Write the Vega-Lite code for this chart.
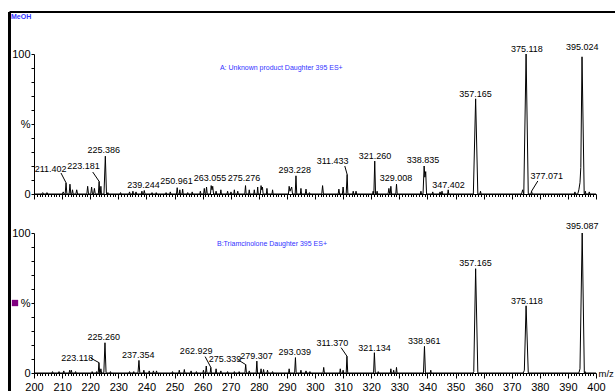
{
  "$schema": "https://vega.github.io/schema/vega-lite/v6.json",
  "padding": {"left": 7, "top": 10, "right": 0, "bottom": 0},
  "background": "white",
  "bounds": "flush",
  "spacing": 39,
  "config": {
    "view": {"stroke": null},
    "font": "Liberation Sans, Arial",
    "axis": {"domainColor": "black", "tickColor": "black", "labelColor": "black", "labelFontSize": 11, "grid": false, "domainWidth": 1, "tickWidth": 1}
  },
  "datasets": {
    "specA": [
      {"mz":200,"i":0},
      {"mz":202.8,"i":0},{"mz":203.1,"i":1},{"mz":203.4,"i":0},
      {"mz":204.3,"i":0},{"mz":204.6,"i":1},{"mz":204.9,"i":0},
      {"mz":210.1,"i":0},{"mz":210.4,"i":1.5},{"mz":210.7,"i":0},
      {"mz":211.1,"i":0},{"mz":211.402,"i":8},{"mz":211.7,"i":0},
      {"mz":212.5,"i":0},{"mz":212.8,"i":7},{"mz":213.1,"i":0},
      {"mz":213.45,"i":0},{"mz":213.7,"i":3},{"mz":213.95,"i":0},
      {"mz":214.9,"i":0},{"mz":215.2,"i":3},{"mz":215.5,"i":0},
      {"mz":218.8,"i":0},{"mz":219.1,"i":5.5},{"mz":219.4,"i":0},
      {"mz":220.2,"i":0},{"mz":220.5,"i":5},{"mz":220.8,"i":0},
      {"mz":221.2,"i":0},{"mz":221.5,"i":4},{"mz":221.8,"i":0},
      {"mz":222.9,"i":0},{"mz":223.181,"i":9},{"mz":223.4,"i":0},
      {"mz":223.6,"i":0},{"mz":223.8,"i":5.5},{"mz":224.0,"i":0},
      {"mz":224.9,"i":0},{"mz":225.386,"i":27},{"mz":225.8,"i":0},
      {"mz":226.1,"i":0},{"mz":226.3,"i":1},{"mz":226.5,"i":0},
      {"mz":230.6,"i":0},{"mz":230.8,"i":1},{"mz":231.0,"i":0},
      {"mz":233.8,"i":0},{"mz":234.0,"i":1.5},{"mz":234.2,"i":0},
      {"mz":235.0,"i":0},{"mz":235.2,"i":2},{"mz":235.4,"i":0},
      {"mz":236.1,"i":0},{"mz":236.3,"i":1.5},{"mz":236.5,"i":0},
      {"mz":238.2,"i":0},{"mz":238.4,"i":2},{"mz":238.6,"i":0},
      {"mz":239.0,"i":0},{"mz":239.244,"i":2.5},{"mz":239.5,"i":0},
      {"mz":241.8,"i":0},{"mz":242.0,"i":1},{"mz":242.2,"i":0},
      {"mz":243.3,"i":0},{"mz":243.5,"i":1},{"mz":243.7,"i":0},
      {"mz":246.8,"i":0},{"mz":247.0,"i":1},{"mz":247.2,"i":0},
      {"mz":248.3,"i":0},{"mz":248.5,"i":1.5},{"mz":248.7,"i":0},
      {"mz":250.7,"i":0},{"mz":250.961,"i":4.5},{"mz":251.2,"i":0},
      {"mz":251.7,"i":0},{"mz":251.9,"i":3},{"mz":252.1,"i":0},
      {"mz":252.7,"i":0},{"mz":252.9,"i":3.5},{"mz":253.1,"i":0},
      {"mz":254.5,"i":0},{"mz":254.7,"i":1},{"mz":254.9,"i":0},
      {"mz":256.1,"i":0},{"mz":256.3,"i":1.5},{"mz":256.5,"i":0},
      {"mz":259.0,"i":0},{"mz":259.2,"i":2},{"mz":259.4,"i":0},
      {"mz":260.35,"i":0},{"mz":260.6,"i":4},{"mz":260.85,"i":0},
      {"mz":261.15,"i":0},{"mz":261.4,"i":5},{"mz":261.65,"i":0},
      {"mz":262.8,"i":0},{"mz":263.055,"i":6},{"mz":263.35,"i":3},{"mz":263.6,"i":5.5},{"mz":263.9,"i":0},
      {"mz":264.6,"i":0},{"mz":264.8,"i":2},{"mz":265.0,"i":0},
      {"mz":266.3,"i":0},{"mz":266.5,"i":3},{"mz":266.7,"i":0},
      {"mz":268.7,"i":0},{"mz":268.9,"i":2},{"mz":269.1,"i":0},
      {"mz":269.9,"i":0},{"mz":270.1,"i":1.5},{"mz":270.3,"i":0},
      {"mz":271.1,"i":0},{"mz":271.3,"i":3},{"mz":271.5,"i":0},
      {"mz":272.3,"i":0},{"mz":272.5,"i":2},{"mz":272.7,"i":0},
      {"mz":275.0,"i":0},{"mz":275.276,"i":6},{"mz":275.5,"i":0},
      {"mz":276.4,"i":0},{"mz":276.6,"i":3},{"mz":276.8,"i":0},
      {"mz":278.2,"i":0},{"mz":278.4,"i":3},{"mz":278.6,"i":0},
      {"mz":279.4,"i":0},{"mz":279.6,"i":5},{"mz":279.8,"i":0},
      {"mz":280.55,"i":0},{"mz":280.8,"i":6},{"mz":281.05,"i":3},{"mz":281.3,"i":5},{"mz":281.55,"i":0},
      {"mz":282.7,"i":0},{"mz":282.9,"i":4},{"mz":283.1,"i":0},
      {"mz":284.7,"i":0},{"mz":284.9,"i":3},{"mz":285.1,"i":0},
      {"mz":290.55,"i":0},{"mz":290.8,"i":5.5},{"mz":291.1,"i":2},{"mz":291.7,"i":5},{"mz":292.0,"i":0},
      {"mz":292.95,"i":0},{"mz":293.228,"i":13},{"mz":293.5,"i":0},
      {"mz":294.8,"i":0},{"mz":295.0,"i":4},{"mz":295.2,"i":0},
      {"mz":296.55,"i":0},{"mz":296.8,"i":3.5},{"mz":297.05,"i":0},
      {"mz":297.8,"i":0},{"mz":298.0,"i":1},{"mz":298.2,"i":0},
      {"mz":302.4,"i":0},{"mz":302.7,"i":6},{"mz":303.0,"i":0},
      {"mz":308.25,"i":0},{"mz":308.5,"i":3.5},{"mz":308.75,"i":0},
      {"mz":309.75,"i":0},{"mz":310.0,"i":5},{"mz":310.25,"i":0},
      {"mz":311.1,"i":0},{"mz":311.433,"i":14},{"mz":311.7,"i":0},
      {"mz":313.4,"i":0},{"mz":313.6,"i":2},{"mz":313.8,"i":0},
      {"mz":314.4,"i":0},{"mz":314.6,"i":2},{"mz":314.8,"i":0},
      {"mz":320.5,"i":0},{"mz":320.7,"i":2},{"mz":320.85,"i":0},
      {"mz":320.95,"i":0},{"mz":321.26,"i":23.5},{"mz":321.55,"i":0},
      {"mz":321.9,"i":0},{"mz":322.1,"i":2},{"mz":322.3,"i":0},
      {"mz":326.0,"i":0},{"mz":326.3,"i":4},{"mz":326.6,"i":0},
      {"mz":326.75,"i":0},{"mz":327.0,"i":5.5},{"mz":327.25,"i":0},
      {"mz":328.75,"i":0},{"mz":329.008,"i":7},{"mz":329.25,"i":0},
      {"mz":337.5,"i":0},{"mz":337.7,"i":2},{"mz":337.9,"i":0},
      {"mz":338.45,"i":0},{"mz":338.835,"i":20},{"mz":339.1,"i":12},{"mz":339.4,"i":16},{"mz":339.7,"i":0},
      {"mz":341.7,"i":0},{"mz":341.9,"i":1.5},{"mz":342.1,"i":0},
      {"mz":344.3,"i":0},{"mz":344.5,"i":1.5},{"mz":344.7,"i":0},
      {"mz":345.0,"i":0},{"mz":345.2,"i":2},{"mz":345.4,"i":0},
      {"mz":347.2,"i":0},{"mz":347.402,"i":3},{"mz":347.6,"i":0},
      {"mz":356.35,"i":0},{"mz":357.165,"i":68},{"mz":357.95,"i":0},
      {"mz":358.7,"i":0},{"mz":358.9,"i":2},{"mz":359.1,"i":0},
      {"mz":373.5,"i":0},{"mz":373.9,"i":3},{"mz":374.3,"i":0},{"mz":375.118,"i":100},{"mz":375.9,"i":0},
      {"mz":376.85,"i":0},{"mz":377.071,"i":2},{"mz":377.3,"i":0},
      {"mz":392.3,"i":0},{"mz":392.5,"i":1.5},{"mz":392.7,"i":0},
      {"mz":393.5,"i":0},{"mz":393.9,"i":3},{"mz":394.3,"i":8},{"mz":394.6,"i":19},{"mz":395.024,"i":98},{"mz":395.8,"i":0},
      {"mz":396.0,"i":0},{"mz":396.2,"i":2},{"mz":396.4,"i":0},
      {"mz":397.4,"i":0},{"mz":397.6,"i":1.5},{"mz":397.8,"i":0},
      {"mz":400,"i":0}
    ],
    "specB": [
      {"mz":200,"i":0},
      {"mz":206.4,"i":0},{"mz":206.6,"i":1},{"mz":206.8,"i":0},
      {"mz":208.7,"i":0},{"mz":208.9,"i":1},{"mz":209.1,"i":0},
      {"mz":210.4,"i":0},{"mz":210.6,"i":1.5},{"mz":210.8,"i":0},
      {"mz":212.5,"i":0},{"mz":212.7,"i":2},{"mz":212.9,"i":0},
      {"mz":213.1,"i":0},{"mz":213.3,"i":2},{"mz":213.5,"i":0},
      {"mz":214.6,"i":0},{"mz":214.8,"i":1},{"mz":215.0,"i":0},
      {"mz":220.5,"i":0},{"mz":220.7,"i":1},{"mz":220.9,"i":0},
      {"mz":222.1,"i":0},{"mz":222.3,"i":1},{"mz":222.5,"i":0},
      {"mz":222.85,"i":0},{"mz":223.118,"i":7.4},{"mz":223.37,"i":0},
      {"mz":223.55,"i":0},{"mz":223.8,"i":3},{"mz":224.05,"i":0},
      {"mz":224.85,"i":0},{"mz":225.26,"i":21.6},{"mz":225.65,"i":0},
      {"mz":227.0,"i":0},{"mz":227.2,"i":1},{"mz":227.4,"i":0},
      {"mz":233.8,"i":0},{"mz":234.0,"i":1},{"mz":234.2,"i":0},
      {"mz":235.3,"i":0},{"mz":235.5,"i":1},{"mz":235.7,"i":0},
      {"mz":237.0,"i":0},{"mz":237.354,"i":9},{"mz":237.65,"i":0},
      {"mz":238.9,"i":0},{"mz":239.1,"i":2},{"mz":239.3,"i":0},
      {"mz":240.8,"i":0},{"mz":241.0,"i":1.5},{"mz":241.2,"i":0},
      {"mz":242.3,"i":0},{"mz":242.5,"i":1.5},{"mz":242.7,"i":0},
      {"mz":243.4,"i":0},{"mz":243.6,"i":1.5},{"mz":243.8,"i":0},
      {"mz":249.1,"i":0},{"mz":249.3,"i":1},{"mz":249.5,"i":0},
      {"mz":251.5,"i":0},{"mz":251.7,"i":2},{"mz":251.9,"i":0},
      {"mz":253.3,"i":0},{"mz":253.5,"i":2.5},{"mz":253.7,"i":0},
      {"mz":255.7,"i":0},{"mz":255.9,"i":1.5},{"mz":256.1,"i":0},
      {"mz":257.6,"i":0},{"mz":257.8,"i":1},{"mz":258.0,"i":0},
      {"mz":260.1,"i":0},{"mz":260.3,"i":2},{"mz":260.5,"i":0},
      {"mz":261.05,"i":0},{"mz":261.3,"i":5},{"mz":261.55,"i":0},
      {"mz":262.7,"i":0},{"mz":262.929,"i":4},{"mz":263.15,"i":0},
      {"mz":264.6,"i":0},{"mz":264.8,"i":3},{"mz":265.0,"i":0},
      {"mz":266.3,"i":0},{"mz":266.5,"i":1.5},{"mz":266.7,"i":0},
      {"mz":268.7,"i":0},{"mz":268.9,"i":1},{"mz":269.1,"i":0},
      {"mz":271.1,"i":0},{"mz":271.3,"i":1},{"mz":271.5,"i":0},
      {"mz":272.8,"i":0},{"mz":273.0,"i":1},{"mz":273.2,"i":0},
      {"mz":275.05,"i":0},{"mz":275.339,"i":6},{"mz":275.6,"i":0},
      {"mz":276.4,"i":0},{"mz":276.6,"i":1.5},{"mz":276.8,"i":0},
      {"mz":279.05,"i":0},{"mz":279.307,"i":8.5},{"mz":279.55,"i":0},
      {"mz":280.6,"i":0},{"mz":280.8,"i":3},{"mz":281.0,"i":0},
      {"mz":281.5,"i":0},{"mz":281.7,"i":2.5},{"mz":281.9,"i":0},
      {"mz":282.9,"i":0},{"mz":283.1,"i":2},{"mz":283.3,"i":0},
      {"mz":284.7,"i":0},{"mz":284.9,"i":1},{"mz":285.1,"i":0},
      {"mz":290.6,"i":0},{"mz":290.8,"i":3},{"mz":291.0,"i":0},
      {"mz":292.75,"i":0},{"mz":293.039,"i":11},{"mz":293.3,"i":0},
      {"mz":294.8,"i":0},{"mz":295.0,"i":2},{"mz":295.2,"i":0},
      {"mz":296.6,"i":0},{"mz":296.8,"i":1.5},{"mz":297.0,"i":0},
      {"mz":298.0,"i":0},{"mz":298.2,"i":1},{"mz":298.4,"i":0},
      {"mz":302.85,"i":0},{"mz":303.1,"i":4},{"mz":303.35,"i":0},
      {"mz":308.8,"i":0},{"mz":309.0,"i":3},{"mz":309.2,"i":0},
      {"mz":309.8,"i":0},{"mz":310.0,"i":2},{"mz":310.2,"i":0},
      {"mz":311.1,"i":0},{"mz":311.37,"i":12},{"mz":311.65,"i":0},
      {"mz":320.85,"i":0},{"mz":321.134,"i":14.5},{"mz":321.45,"i":0},
      {"mz":322.3,"i":0},{"mz":322.5,"i":1},{"mz":322.7,"i":0},
      {"mz":326.8,"i":0},{"mz":327.0,"i":3},{"mz":327.2,"i":0},
      {"mz":327.8,"i":0},{"mz":328.0,"i":2},{"mz":328.2,"i":0},
      {"mz":328.8,"i":0},{"mz":329.0,"i":4},{"mz":329.2,"i":0},
      {"mz":338.6,"i":0},{"mz":338.961,"i":19},{"mz":339.3,"i":0},
      {"mz":341.0,"i":0},{"mz":341.2,"i":2},{"mz":341.4,"i":0},
      {"mz":356.3,"i":0},{"mz":356.5,"i":1},{"mz":357.165,"i":74.5},{"mz":357.95,"i":0},
      {"mz":374.1,"i":0},{"mz":374.5,"i":2},{"mz":375.118,"i":48},{"mz":375.9,"i":0},
      {"mz":393.9,"i":0},{"mz":394.3,"i":3},{"mz":395.087,"i":100},{"mz":395.85,"i":0},
      {"mz":395.95,"i":0},{"mz":396.1,"i":1},{"mz":396.3,"i":0},
      {"mz":400,"i":0}
    ],
    "labA": [
      {"t":"211.402","mz":211.402,"i":8,"lx":205.9,"ly":15.7,"sx":209.6,"sy":15},
      {"t":"223.181","mz":223.181,"i":9,"lx":217.6,"ly":17.9,"sx":220.9,"sy":15.7},
      {"t":"225.386","mz":225.386,"i":27,"lx":224.8,"ly":29.5},
      {"t":"239.244","mz":239.244,"i":2.5,"lx":239.0,"ly":4.3},
      {"t":"250.961","mz":250.961,"i":4.5,"lx":250.7,"ly":7.4},
      {"t":"263.055","mz":263.055,"i":6,"lx":262.6,"ly":9.3},
      {"t":"275.276","mz":275.276,"i":6,"lx":274.7,"ly":9.3},
      {"t":"293.228","mz":293.228,"i":13,"lx":292.8,"ly":15.2},
      {"t":"311.433","mz":311.433,"i":14,"lx":306.3,"ly":21.7,"sx":310.6,"sy":20},
      {"t":"321.260","mz":321.26,"i":23.5,"lx":321.35,"ly":24.8},
      {"t":"329.008","mz":329.008,"i":7,"lx":328.8,"ly":9.3},
      {"t":"338.835","mz":338.835,"i":20,"lx":338.4,"ly":21.9},
      {"t":"347.402","mz":347.402,"i":3,"lx":347.5,"ly":4},
      {"t":"357.165","mz":357.165,"i":68,"lx":357.1,"ly":69.3},
      {"t":"375.118","mz":375.118,"i":100,"lx":375.4,"ly":101.7},
      {"t":"377.071","mz":377.071,"i":2,"lx":382.5,"ly":10.5,"sx":379.3,"sy":9.3},
      {"t":"395.024","mz":395.024,"i":98,"lx":395.1,"ly":102.6}
    ],
    "labB": [
      {"t":"223.118","mz":223.118,"i":7.4,"lx":215.4,"ly":8.6,"sx":220.3,"sy":10.5},
      {"t":"225.260","mz":225.26,"i":21.6,"lx":224.8,"ly":23.6},
      {"t":"237.354","mz":237.354,"i":9,"lx":237.1,"ly":10.5},
      {"t":"262.929","mz":262.929,"i":4,"lx":257.7,"ly":13.3,"sx":260.9,"sy":11.7},
      {"t":"275.339","mz":275.339,"i":6,"lx":268.0,"ly":8.1,"sx":272.7,"sy":9.3},
      {"t":"279.307","mz":279.307,"i":8.5,"lx":279.2,"ly":9.8},
      {"t":"293.039","mz":293.039,"i":11,"lx":292.8,"ly":12.6},
      {"t":"311.370","mz":311.37,"i":12,"lx":306.2,"ly":19.3,"sx":309.3,"sy":18.1},
      {"t":"321.134","mz":321.134,"i":14.5,"lx":321.2,"ly":15.7},
      {"t":"338.961","mz":338.961,"i":19,"lx":338.9,"ly":20.5},
      {"t":"357.165","mz":357.165,"i":74.5,"lx":357.1,"ly":76.4},
      {"t":"375.118","mz":375.118,"i":48,"lx":375.4,"ly":49.5},
      {"t":"395.087","mz":395.087,"i":100,"lx":395.1,"ly":102.6}
    ]
  },
  "vconcat": [
    {
      "width": 562,
      "height": 140,
      "layer": [
        {
          "data": {"name": "specA"},
          "mark": {"type": "line", "color": "black", "strokeWidth": 1},
          "encoding": {
            "x": {"field": "mz", "type": "quantitative", "scale": {"domain": [200, 400], "nice": false, "zero": false},
                  "axis": {"orient": "bottom", "tickCount": 200, "labels": false, "title": null, "tickSize": {"condition": {"test": "datum.value % 10 === 0", "value": 5}, "value": 2.5}}},
            "y": {"field": "i", "type": "quantitative", "scale": {"domain": [0, 100], "nice": false},
                  "axis": {"values": [0,10,20,30,40,50,60,70,80,90,100], "tickSize": 3, "labelPadding": 1, "title": null, "labelOverlap": false, "labelExpr": "datum.value == 100 ? '100' : datum.value == 50 ? '%' : datum.value == 0 ? '0' : ''"}}
          }
        },
        {
          "data": {"name": "labA"},
          "transform": [{"filter": "isValid(datum.sx)"}],
          "mark": {"type": "rule", "color": "black", "strokeWidth": 1},
          "encoding": {
            "x": {"field": "sx", "type": "quantitative",
                  "axis": {"orient": "bottom", "tickCount": 200, "labels": false, "title": null, "tickSize": {"condition": {"test": "datum.value % 10 === 0", "value": 5}, "value": 2.5}}},
            "y": {"field": "sy", "type": "quantitative",
                  "axis": {"values": [0,10,20,30,40,50,60,70,80,90,100], "tickSize": 3, "labelPadding": 1, "title": null, "labelOverlap": false, "labelExpr": "datum.value == 100 ? '100' : datum.value == 50 ? '%' : datum.value == 0 ? '0' : ''"}},
            "x2": {"field": "mz"},
            "y2": {"field": "i"}
          }
        },
        {
          "data": {"name": "labA"},
          "mark": {"type": "text", "color": "black", "fontSize": 9, "align": "center", "baseline": "alphabetic"},
          "encoding": {
            "x": {"field": "lx", "type": "quantitative",
                  "axis": {"orient": "bottom", "tickCount": 200, "labels": false, "title": null, "tickSize": {"condition": {"test": "datum.value % 10 === 0", "value": 5}, "value": 2.5}}},
            "y": {"field": "ly", "type": "quantitative",
                  "axis": {"values": [0,10,20,30,40,50,60,70,80,90,100], "tickSize": 3, "labelPadding": 1, "title": null, "labelOverlap": false, "labelExpr": "datum.value == 100 ? '100' : datum.value == 50 ? '%' : datum.value == 0 ? '0' : ''"}},
            "text": {"field": "t"}
          }
        },
        {
          "data": {"values": [{"note": "A: Unknown product Daughter 395 ES+", "px": 288, "py": 90}]},
          "mark": {"type": "text", "color": "#3333ff", "fontSize": 7, "align": "center", "baseline": "middle"},
          "encoding": {
            "x": {"field": "px", "type": "quantitative",
                  "axis": {"orient": "bottom", "tickCount": 200, "labels": false, "title": null, "tickSize": {"condition": {"test": "datum.value % 10 === 0", "value": 5}, "value": 2.5}}},
            "y": {"field": "py", "type": "quantitative",
                  "axis": {"values": [0,10,20,30,40,50,60,70,80,90,100], "tickSize": 3, "labelPadding": 1, "title": null, "labelOverlap": false, "labelExpr": "datum.value == 100 ? '100' : datum.value == 50 ? '%' : datum.value == 0 ? '0' : ''"}},
            "text": {"field": "note"}
          }
        },
        {
          "data": {"values": [{"note": "MeOH", "px": 191.8, "py": 126.4}]},
          "mark": {"type": "text", "color": "#3333ff", "fontSize": 7, "fontWeight": "bold", "align": "left", "baseline": "middle"},
          "encoding": {
            "x": {"field": "px", "type": "quantitative",
                  "axis": {"orient": "bottom", "tickCount": 200, "labels": false, "title": null, "tickSize": {"condition": {"test": "datum.value % 10 === 0", "value": 5}, "value": 2.5}}},
            "y": {"field": "py", "type": "quantitative",
                  "axis": {"values": [0,10,20,30,40,50,60,70,80,90,100], "tickSize": 3, "labelPadding": 1, "title": null, "labelOverlap": false, "labelExpr": "datum.value == 100 ? '100' : datum.value == 50 ? '%' : datum.value == 0 ? '0' : ''"}},
            "text": {"field": "note"}
          }
        },
        {
          "data": {"values": [{"x1": 191.28, "y1": 130, "y2": -141.4}]},
          "mark": {"type": "rule", "color": "black", "strokeWidth": 3},
          "encoding": {
            "x": {"field": "x1", "type": "quantitative",
                  "axis": {"orient": "bottom", "tickCount": 200, "labels": false, "title": null, "tickSize": {"condition": {"test": "datum.value % 10 === 0", "value": 5}, "value": 2.5}}},
            "y": {"field": "y1", "type": "quantitative",
                  "axis": {"values": [0,10,20,30,40,50,60,70,80,90,100], "tickSize": 3, "labelPadding": 1, "title": null, "labelOverlap": false, "labelExpr": "datum.value == 100 ? '100' : datum.value == 50 ? '%' : datum.value == 0 ? '0' : ''"}},
            "y2": {"field": "y2"}
          }
        },
        {
          "data": {"values": [{"x1": 191.28, "x2": 407.2, "y1": 130}]},
          "mark": {"type": "rule", "color": "black", "strokeWidth": 2},
          "encoding": {
            "x": {"field": "x1", "type": "quantitative",
                  "axis": {"orient": "bottom", "tickCount": 200, "labels": false, "title": null, "tickSize": {"condition": {"test": "datum.value % 10 === 0", "value": 5}, "value": 2.5}}},
            "x2": {"field": "x2"},
            "y": {"field": "y1", "type": "quantitative",
                  "axis": {"values": [0,10,20,30,40,50,60,70,80,90,100], "tickSize": 3, "labelPadding": 1, "title": null, "labelOverlap": false, "labelExpr": "datum.value == 100 ? '100' : datum.value == 50 ? '%' : datum.value == 0 ? '0' : ''"}}
          }
        }
      ]
    },
    {
      "width": 562,
      "height": 140,
      "layer": [
        {
          "data": {"name": "specB"},
          "mark": {"type": "line", "color": "black", "strokeWidth": 1},
          "encoding": {
            "x": {"field": "mz", "type": "quantitative", "scale": {"domain": [200, 400], "nice": false, "zero": false},
                  "axis": {"orient": "bottom", "tickCount": 200, "labelOverlap": false, "labelFlush": false, "labelPadding": 3, "labelExpr": "datum.value % 10 === 0 ? datum.label : ''", "tickSize": {"condition": {"test": "datum.value % 10 === 0", "value": 5}, "value": 2.5}, "title": "m/z", "titleX": 564, "titleY": 0, "titleAlign": "left", "titleBaseline": "middle", "titleFontWeight": "normal", "titleFontSize": 9.5, "titleColor": "black"}},
            "y": {"field": "i", "type": "quantitative", "scale": {"domain": [0, 100], "nice": false},
                  "axis": {"values": [0,10,20,30,40,50,60,70,80,90,100], "tickSize": 3, "labelPadding": 1, "title": null, "labelOverlap": false, "labelExpr": "datum.value == 100 ? '100' : datum.value == 50 ? '%' : datum.value == 0 ? '0' : ''"}}
          }
        },
        {
          "data": {"name": "labB"},
          "transform": [{"filter": "isValid(datum.sx)"}],
          "mark": {"type": "rule", "color": "black", "strokeWidth": 1},
          "encoding": {
            "x": {"field": "sx", "type": "quantitative",
                  "axis": {"orient": "bottom", "tickCount": 200, "labelOverlap": false, "labelFlush": false, "labelPadding": 3, "labelExpr": "datum.value % 10 === 0 ? datum.label : ''", "tickSize": {"condition": {"test": "datum.value % 10 === 0", "value": 5}, "value": 2.5}, "title": "m/z", "titleX": 564, "titleY": 0, "titleAlign": "left", "titleBaseline": "middle", "titleFontWeight": "normal", "titleFontSize": 9.5, "titleColor": "black"}},
            "y": {"field": "sy", "type": "quantitative",
                  "axis": {"values": [0,10,20,30,40,50,60,70,80,90,100], "tickSize": 3, "labelPadding": 1, "title": null, "labelOverlap": false, "labelExpr": "datum.value == 100 ? '100' : datum.value == 50 ? '%' : datum.value == 0 ? '0' : ''"}},
            "x2": {"field": "mz"},
            "y2": {"field": "i"}
          }
        },
        {
          "data": {"name": "labB"},
          "mark": {"type": "text", "color": "black", "fontSize": 9, "align": "center", "baseline": "alphabetic"},
          "encoding": {
            "x": {"field": "lx", "type": "quantitative",
                  "axis": {"orient": "bottom", "tickCount": 200, "labelOverlap": false, "labelFlush": false, "labelPadding": 3, "labelExpr": "datum.value % 10 === 0 ? datum.label : ''", "tickSize": {"condition": {"test": "datum.value % 10 === 0", "value": 5}, "value": 2.5}, "title": "m/z", "titleX": 564, "titleY": 0, "titleAlign": "left", "titleBaseline": "middle", "titleFontWeight": "normal", "titleFontSize": 9.5, "titleColor": "black"}},
            "y": {"field": "ly", "type": "quantitative",
                  "axis": {"values": [0,10,20,30,40,50,60,70,80,90,100], "tickSize": 3, "labelPadding": 1, "title": null, "labelOverlap": false, "labelExpr": "datum.value == 100 ? '100' : datum.value == 50 ? '%' : datum.value == 0 ? '0' : ''"}},
            "text": {"field": "t"}
          }
        },
        {
          "data": {"values": [{"note": "B:Triamcinolone Daughter 395 ES+", "px": 284.7, "py": 92.1}]},
          "mark": {"type": "text", "color": "#3333ff", "fontSize": 7, "align": "center", "baseline": "middle"},
          "encoding": {
            "x": {"field": "px", "type": "quantitative",
                  "axis": {"orient": "bottom", "tickCount": 200, "labelOverlap": false, "labelFlush": false, "labelPadding": 3, "labelExpr": "datum.value % 10 === 0 ? datum.label : ''", "tickSize": {"condition": {"test": "datum.value % 10 === 0", "value": 5}, "value": 2.5}, "title": "m/z", "titleX": 564, "titleY": 0, "titleAlign": "left", "titleBaseline": "middle", "titleFontWeight": "normal", "titleFontSize": 9.5, "titleColor": "black"}},
            "y": {"field": "py", "type": "quantitative",
                  "axis": {"values": [0,10,20,30,40,50,60,70,80,90,100], "tickSize": 3, "labelPadding": 1, "title": null, "labelOverlap": false, "labelExpr": "datum.value == 100 ? '100' : datum.value == 50 ? '%' : datum.value == 0 ? '0' : ''"}},
            "text": {"field": "note"}
          }
        },
        {
          "data": {"values": [{"px": 193.24, "py": 50}]},
          "mark": {"type": "point", "shape": "square", "size": 40, "filled": true, "color": "#800080", "opacity": 1},
          "encoding": {
            "x": {"field": "px", "type": "quantitative",
                  "axis": {"orient": "bottom", "tickCount": 200, "labelOverlap": false, "labelFlush": false, "labelPadding": 3, "labelExpr": "datum.value % 10 === 0 ? datum.label : ''", "tickSize": {"condition": {"test": "datum.value % 10 === 0", "value": 5}, "value": 2.5}, "title": "m/z", "titleX": 564, "titleY": 0, "titleAlign": "left", "titleBaseline": "middle", "titleFontWeight": "normal", "titleFontSize": 9.5, "titleColor": "black"}},
            "y": {"field": "py", "type": "quantitative",
                  "axis": {"values": [0,10,20,30,40,50,60,70,80,90,100], "tickSize": 3, "labelPadding": 1, "title": null, "labelOverlap": false, "labelExpr": "datum.value == 100 ? '100' : datum.value == 50 ? '%' : datum.value == 0 ? '0' : ''"}}
          }
        }
      ]
    }
  ]
}
